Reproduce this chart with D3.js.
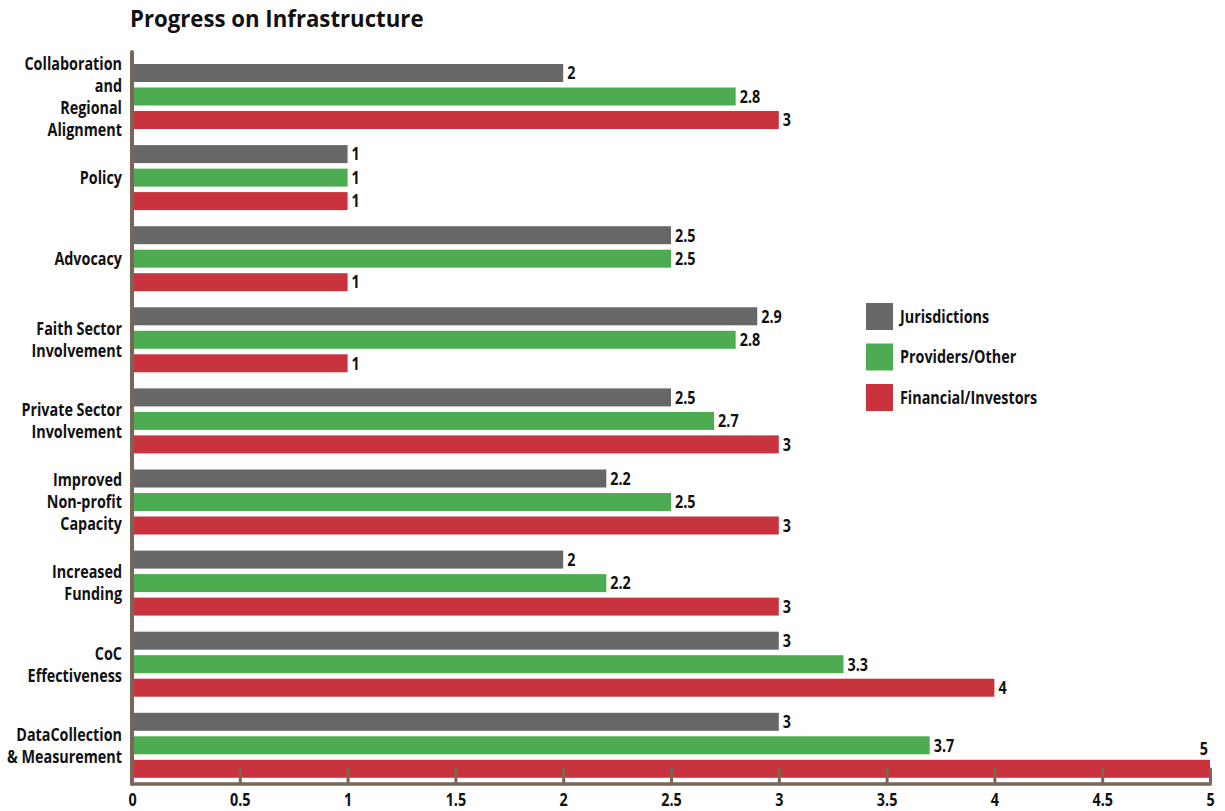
<!DOCTYPE html>
<html><head><meta charset="utf-8">
<script src="https://cdn.jsdelivr.net/npm/d3@7"></script>
<style>
body{margin:0;background:#fff;}
text{font-family:"Open Sans","Noto Sans",sans-serif;font-weight:bold;}
</style></head>
<body><svg id="c" width="1225" height="811"></svg>
<script>
const categories = [
  ["Collaboration","and","Regional","Alignment"],
  ["Policy"],
  ["Advocacy"],
  ["Faith Sector","Involvement"],
  ["Private Sector","Involvement"],
  ["Improved","Non-profit","Capacity"],
  ["Increased","Funding"],
  ["CoC","Effectiveness"],
  ["DataCollection","& Measurement"]
];
const seriesNames = ["Jurisdictions","Providers/Other","Financial/Investors"];
const jurisdictions = [2, 1, 2.5, 2.9, 2.5, 2.2, 2, 3, 3];
const providers     = [2.8, 1, 2.5, 2.8, 2.7, 2.5, 2.2, 3.3, 3.7];
const financial     = [3, 1, 1, 1, 3, 3, 3, 4, 5];
const xTicks = [0,0.5,1,1.5,2,2.5,3,3.5,4,4.5,5];
const colors = ["#676767","#4dab52","#c9333d"];
const series = [jurisdictions, providers, financial];

const SX = 0.82;      // horizontal condensing to mimic a condensed bold face
const FS = 17.5;

const svg = d3.select("#c");
const m = {left:132, right:1210, top:55, bottom:784};
const x = d3.scaleLinear().domain([0,5]).range([m.left, m.right]);
const y = d3.scaleBand().domain(d3.range(categories.length)).range([m.top, m.top + 81.1*9]);
const inner = d3.scaleBand().domain(d3.range(3)).range([9, 74]).paddingInner(0.234).paddingOuter(0);

function ctext(parent, px, py, str, anchor, size, sx){
  const gg = parent.append("g").attr("transform", `translate(${px},${py}) scale(${sx},1)`);
  return gg.append("text").attr("x",0).attr("y",0).attr("text-anchor",anchor||"start")
    .attr("font-size",size).attr("fill","#111").text(str);
}

// title
ctext(svg, 130, 27, "Progress on Infrastructure", "start", 23, 0.965);

// bars
const g = svg.append("g");
categories.forEach((c,i)=>{
  series.forEach((s,j)=>{
    const yy = y(i) + inner(j);
    const h = inner.bandwidth();
    g.append("rect").attr("x",x(0)).attr("y",yy).attr("width",x(s[i])-x(0)).attr("height",h).attr("fill",colors[j]);
    if (x(s[i]) + 20 > m.right) {
      ctext(g, x(s[i])-2, yy-5, s[i], "end", FS, SX);
    } else {
      ctext(g, x(s[i])+4, yy+h/2+6.3, s[i], "start", FS, SX);
    }
  });
  const lines = c;
  const cy = y(i) + 9 + 32.5;
  const lh = 22;
  lines.forEach((ln,k)=>{
    ctext(svg, 122, cy + (k-(lines.length-1)/2)*lh + 6.3, ln, "end", FS, SX);
  });
});

// axes
const axisColor = "#7a6656";
const ax = svg.append("g").attr("transform",`translate(0,${m.bottom})`)
  .call(d3.axisBottom(x).tickValues(xTicks).tickFormat(d=>d).tickSize(-15).tickPadding(10));
ax.select(".domain").remove();
ax.selectAll(".tick line").attr("stroke",axisColor).attr("stroke-width",3).attr("stroke-linecap","round");
ax.selectAll(".tick text").attr("font-size",FS).attr("fill","#111")
  .style("font-family","'Open Sans',sans-serif").style("font-weight","bold")
  .attr("transform",`scale(${SX},1)`)
  .attr("x", 0);
svg.append("line").attr("x1",x(0)).attr("x2",m.right).attr("y1",m.bottom).attr("y2",m.bottom)
  .attr("stroke",axisColor).attr("stroke-width",3.5).attr("stroke-linecap","round");
svg.append("line").attr("x1",x(0)).attr("x2",x(0)).attr("y1",52).attr("y2",m.bottom)
  .attr("stroke",axisColor).attr("stroke-width",4).attr("stroke-linecap","round");

// legend
const lg = svg.append("g").attr("transform","translate(866,303)");
seriesNames.forEach((n,j)=>{
  lg.append("rect").attr("x",0).attr("y",j*40.5).attr("width",27).attr("height",27).attr("fill",colors[j]);
  ctext(lg, 34, j*40.5+13.5+6.3, n, "start", FS, SX);
});
</script></body></html>
